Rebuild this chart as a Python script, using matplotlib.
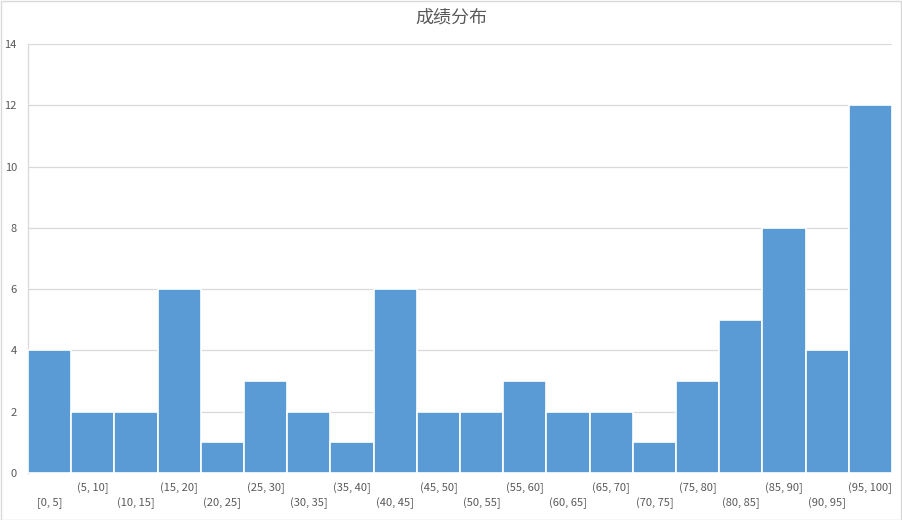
import matplotlib
matplotlib.use("Agg")
import matplotlib.pyplot as plt
from matplotlib.patches import Rectangle
from matplotlib.transforms import blended_transform_factory

plt.rcParams['font.family'] = ['Noto Sans CJK SC', 'DejaVu Sans']

bin_labels = ["[0, 5]", "(5, 10]", "(10, 15]", "(15, 20]", "(20, 25]", "(25, 30]",
              "(30, 35]", "(35, 40]", "(40, 45]", "(45, 50]", "(50, 55]", "(55, 60]",
              "(60, 65]", "(65, 70]", "(70, 75]", "(75, 80]", "(80, 85]", "(85, 90]",
              "(90, 95]", "(95, 100]"]
counts = [4, 2, 2, 6, 1, 3, 2, 1, 6, 2, 2, 3, 2, 2, 1, 3, 5, 8, 4, 12]
y_ticks = [0, 2, 4, 6, 8, 10, 12, 14]
title = "成绩分布"

bar_color = "#5B9BD5"
text_color = "#595959"
grid_color = "#D9D9D9"

fig = plt.figure(figsize=(9.02, 5.2), dpi=100)
ax = fig.add_axes([28 / 902, 47 / 520, 864 / 902, 429 / 520])

x = list(range(len(counts)))
ax.bar(x, counts, width=1.0, color=bar_color, edgecolor="white", linewidth=1.2, zorder=3)

ax.set_xlim(-0.5, len(counts) - 0.5)
ax.set_ylim(0, 14)
ax.set_yticks(y_ticks)
ax.set_yticklabels([str(v) for v in y_ticks], fontsize=8, color=text_color)
ax.tick_params(axis="y", length=0, pad=8)
ax.yaxis.grid(True, color=grid_color, linewidth=0.9, zorder=0)
ax.set_xticks([])

for side in ("top", "right", "bottom"):
    ax.spines[side].set_visible(False)
ax.spines["left"].set_color(grid_color)
ax.spines["left"].set_linewidth(0.9)

# Staggered category labels under the bars
trans = blended_transform_factory(ax.transData, ax.transAxes)
for i, lab in enumerate(bin_labels):
    yoff = -15 / 429 if i % 2 == 1 else -30 / 429
    ax.text(i, yoff, lab, transform=trans, ha="center", va="center",
            fontsize=8, color=text_color)

fig.text(0.5, 1 - 18 / 520, title, ha="center", va="center",
         fontsize=13, color=text_color)

# Light frame around the chart
fig.patches.append(Rectangle((0.5 / 902, 0.5 / 520), 1 - 1.5 / 902, 1 - 1.5 / 520,
                             transform=fig.transFigure, fill=False,
                             edgecolor=grid_color, linewidth=1.0))

fig.savefig("out.png", dpi=100, facecolor="white")
